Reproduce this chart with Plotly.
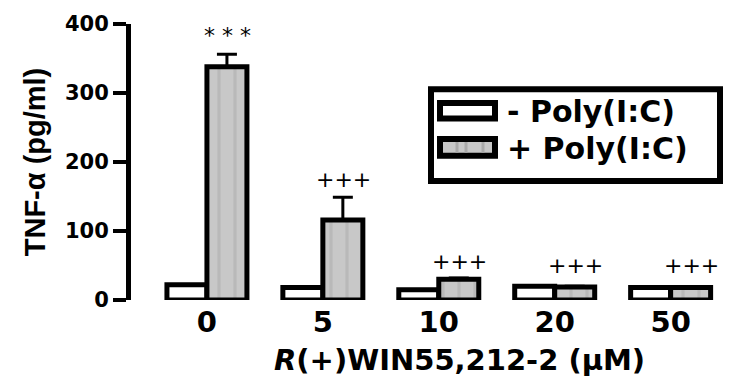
import plotly.graph_objects as go

categories = ["0", "5", "10", "20", "50"]
minus_poly = [22, 18, 15, 20, 18]
plus_poly = [338, 116, 30, 19, 18]
plus_err = [18, 33, 2, 1, 1]
marks = ["* * *", "+++", "+++", "+++", "+++"]
mark_y = [383, 175, 56, 50, 50]
series_names = ["- Poly(I:C)", "+ Poly(I:C)"]
x_title = "<b><i>R</i>(+)WIN55,212-2 (μM)</b>"
y_title = "<b>TNF-α (pg/ml)</b>"

L, R, T, B, W, H = 131, 14, 17, 81, 731, 381
PW, PH = W - L - R, H - T - B
def px(x):
    return (x - L) / PW
def py(y):
    return (H - B - y) / PH

BOLD = "DejaVu Sans"

fig = go.Figure()
fig.add_trace(go.Bar(
    x=categories, y=minus_poly, name=series_names[0],
    marker=dict(color="white", line=dict(color="black", width=5)),
))
fig.add_trace(go.Bar(
    x=categories, y=plus_poly, name=series_names[1],
    marker=dict(color="#c8c8c8", line=dict(color="black", width=5),
                pattern=dict(shape="|", fgcolor="#aaaaaa", bgcolor="#c8c8c8",
                             size=16, solidity=0.2)),
    error_y=dict(type="data", array=plus_err, arrayminus=[0]*5,
                 color="black", thickness=3, width=10),
))

for i, (m, yv) in enumerate(zip(marks, mark_y)):
    fig.add_annotation(x=i, y=yv, text=m, showarrow=False, xshift=21,
                       font=dict(family="DejaVu Sans", size=22, color="black"))

# legend box drawn manually to match the large swatches
shapes = [
    dict(type="rect", xref="paper", yref="paper", x0=px(431), x1=px(720), y0=py(84), y1=py(178),
         line=dict(color="black", width=6), fillcolor="white", layer="above"),
    dict(type="rect", xref="paper", yref="paper", x0=px(440), x1=px(495), y0=py(98), y1=py(114),
         line=dict(color="black", width=6), fillcolor="white", layer="above"),
    dict(type="rect", xref="paper", yref="paper", x0=px(440), x1=px(495), y0=py(135), y1=py(152),
         line=dict(color="black", width=6), fillcolor="#c8c8c8", layer="above"),
]
for sx in (457, 466, 483):
    shapes.append(dict(type="line", xref="paper", yref="paper", x0=px(sx), x1=px(sx),
                       y0=py(138), y1=py(149), line=dict(color="#aaaaaa", width=3), layer="above"))
fig.update_layout(shapes=shapes)
for name, yc in zip(series_names, (107, 145)):
    fig.add_annotation(xref="paper", yref="paper", x=px(505), y=py(yc), text="<b>%s</b>" % name,
                       showarrow=False, xanchor="left", yanchor="middle",
                       font=dict(family=BOLD, size=30, color="black"))

fig.add_annotation(xref="paper", yref="paper", x=px(459), y=py(362), text=x_title,
                   showarrow=False, xanchor="center", yanchor="middle",
                   font=dict(family=BOLD, size=29, color="black"))

fig.update_layout(
    width=W, height=H,
    margin=dict(l=L, r=R, t=T, b=B),
    plot_bgcolor="white", paper_bgcolor="white",
    barmode="group", bargap=0.31, bargroupgap=0,
    font=dict(family=BOLD, color="black"),
    showlegend=False,
)
fig.update_xaxes(
    type="category", range=[-0.655, 4.4], showline=False, ticks="",
    tickvals=categories, ticktext=["<b>%s</b>" % c for c in categories],
    tickfont=dict(size=29, family=BOLD), ticklabelstandoff=2,
)
fig.update_yaxes(
    range=[0, 400], tickvals=[0, 100, 200, 300, 400],
    ticktext=["<b>%d</b>" % v for v in [0, 100, 200, 300, 400]],
    showgrid=False, zeroline=False,
    showline=True, linecolor="black", linewidth=5, ticks="outside", ticklen=13,
    tickwidth=4, tickcolor="black", ticklabelstandoff=0,
    tickfont=dict(size=21, family=BOLD),
    title=dict(text=y_title, font=dict(size=29, family="Liberation Sans"), standoff=12),
)

fig.write_html("out.html", config={"displayModeBar": False},
               post_script="document.body.style.margin='0';")
